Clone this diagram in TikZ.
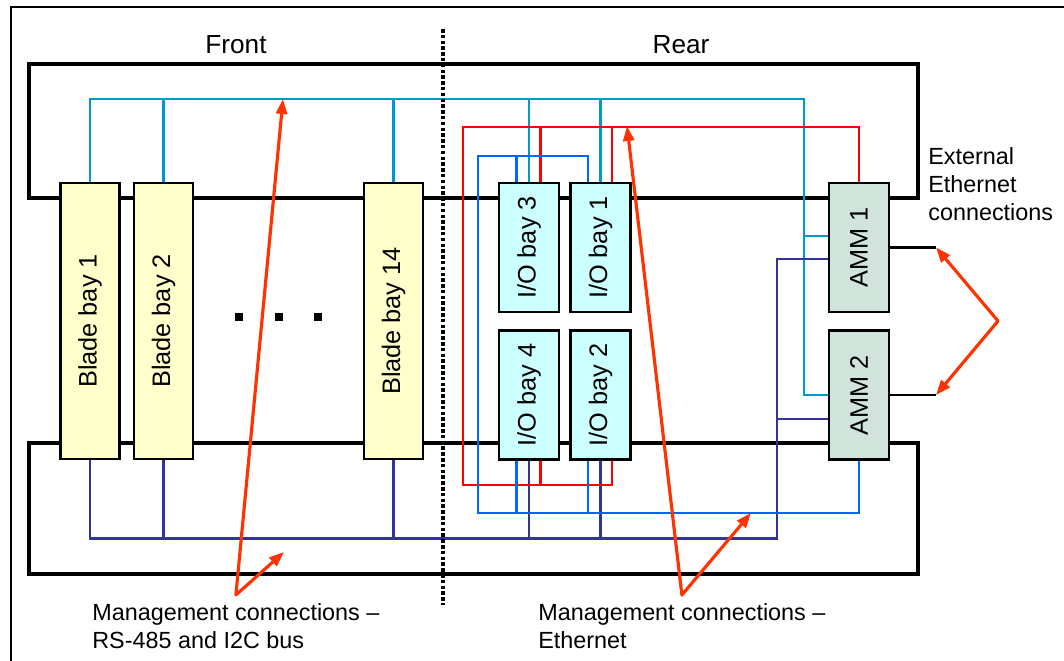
\documentclass[tikz,border=0pt]{standalone}
\usepackage{fontspec}
\setmainfont{Liberation Sans}
\usepackage{graphicx}
\usetikzlibrary{arrows.meta,calc}
\definecolor{bladefill}{HTML}{FFFFCC}
\definecolor{iofill}{HTML}{CCFFFF}
\definecolor{ammfill}{HTML}{D0E4DC}
\definecolor{rsline}{HTML}{333399}
\definecolor{mgline}{HTML}{0099CC}
\definecolor{ethred}{HTML}{FF0000}
\definecolor{ethblue}{HTML}{0066FF}
\definecolor{callout}{HTML}{FF3300}
\tikzset{
  bladebox/.style={draw,fill=bladefill,line width=1.3pt,minimum width=1.18cm,minimum height=5.52cm,inner sep=0pt,font=\fontsize{14.4}{16}\selectfont},
  iobox/.style={draw,fill=iofill,line width=1.3pt,minimum width=1.2cm,minimum height=2.58cm,inner sep=0pt,font=\fontsize{14.4}{16}\selectfont},
  ammbox/.style={draw,fill=ammfill,line width=1.3pt,minimum width=1.2cm,minimum height=2.58cm,inner sep=0pt,font=\fontsize{14.4}{16}\selectfont},
  chassis/.style={line width=2.1pt,draw=black},
  divider/.style={line width=2.1pt,draw=black,dash pattern=on 2pt off 1.3pt},
  rsbus/.style={line width=1.5pt,draw=rsline},
  mgbus/.style={line width=1.5pt,draw=mgline},
  redbus/.style={line width=1.5pt,draw=ethred},
  bluebus/.style={line width=1.5pt,draw=ethblue},
  ethext/.style={line width=1.4pt,draw=black},
  callarr/.style={{Triangle[length=0.3cm,width=0.22cm]}-{Triangle[length=0.3cm,width=0.22cm]},line width=1.8pt,draw=callout,line join=round},
  lbl/.style={align=left,inner sep=0pt,font=\fontsize{13.3}{15.9}\selectfont},
  head/.style={inner sep=0pt,font=\fontsize{14.9}{17}\selectfont}
}
\begin{document}
\begin{tikzpicture}[x=0.02cm,y=-0.02cm]
  \useasboundingbox (0,0) rectangle (1064,661);
  \draw[line width=0.7pt] (11,661) -- (11,7) -- (1064,7);
  \node[head] (front) at (236,45) {Front};
  \node[head] (rear) at (681,45) {Rear};
  \draw[chassis] (29,64) rectangle (918,198);
  \draw[chassis] (29,443) rectangle (918,574);

  \node[bladebox] (bb1) at (90,321) {\rotatebox{90}{Blade bay 1}};
  \node[bladebox] (bb2) at (163.5,321) {\rotatebox{90}{Blade bay 2}};
  \node[bladebox] (bb14) at (393.5,321) {\rotatebox{90}{Blade bay 14}};
  \node[iobox] (io3) at (529,247.5) {\rotatebox{90}{I/O bay 3}};
  \node[iobox] (io1) at (600.5,247.5) {\rotatebox{90}{I/O bay 1}};
  \node[iobox] (io4) at (529,395) {\rotatebox{90}{I/O bay 4}};
  \node[iobox] (io2) at (600.5,395) {\rotatebox{90}{I/O bay 2}};
  \node[ammbox] (amm1) at (859,247.5) {\rotatebox{90}{AMM 1}};
  \node[ammbox] (amm2) at (859,395) {\rotatebox{90}{AMM 2}};
  \foreach \x in {239,279,318} \fill (\x-4,313) rectangle ++(8,8);

  \coordinate (mgtop) at (804,99);
  \draw[mgbus] (bb1.north) |- (mgtop) -- (mgtop |- amm2.west) -- (amm2.west);
  \draw[mgbus] ([yshift=0.23cm]amm1.west) coordinate (m1) -- (m1 -| mgtop);
  \foreach \n in {bb2,bb14,io3,io1} \draw[mgbus] (\n.north) -- (\n.north |- mgtop);

  \coordinate (rsbot) at (777,538.3);
  \draw[rsbus] ([yshift=-0.23cm]amm1.west) coordinate (r1) -| (rsbot) -- (bb1.south |- rsbot) -- (bb1.south);
  \draw[rsbus] ([yshift=-0.48cm]amm2.west) coordinate (r2) -- (r2 -| rsbot);
  \foreach \n in {bb2,bb14,io4,io2} \draw[rsbus] (\n.south) -- (\n.south |- rsbot);

  \coordinate (ettop) at (463,127);
  \coordinate (etbot) at (463,485);
  \draw[redbus] (amm1.north) |- (ettop) -- (etbot) -| ([xshift=0.23cm]io2.south);
  \foreach \n in {io3,io1} \draw[redbus] ([xshift=0.23cm]\n.north) coordinate (t) -- (t |- ettop);
  \draw[redbus] ([xshift=0.23cm]io4.south) coordinate (t) -- (t |- etbot);

  \coordinate (bltop) at (478,156);
  \coordinate (blbot) at (478,513);
  \draw[bluebus] ([xshift=-0.25cm]io1.north) coordinate (t) |- (bltop) -- (blbot) -| (amm2.south);
  \draw[bluebus] ([xshift=-0.25cm]io3.north) coordinate (t) -- (t |- bltop);
  \foreach \n in {io4,io2} \draw[bluebus] ([xshift=-0.25cm]\n.south) coordinate (t) -- (t |- blbot);

  \coordinate (x1) at (936,247.5);
  \coordinate (x2) at (936,395);
  \draw[ethext] (amm1.east) -- (x1);
  \draw[ethext] (amm2.east) -- (x2);

  \draw[divider] (443,29) -- (443,605);

  \node[lbl,anchor=north west] (lrs) at (92,603) {Management connections --\\RS-485 and I2C bus};
  \node[lbl,anchor=north west] (leth) at (538,603) {Management connections --\\Ethernet};
  \node[lbl,anchor=north west] (lext) at (928,147) {External\\Ethernet\\connections};
  \coordinate (cl1) at (283,99);
  \coordinate (cl2) at (284,552);
  \coordinate (ce1) at (627,126);
  \coordinate (ce2) at (751,513);
  \coordinate (cx) at (998,321);
  \draw[callarr] (cl1) -- ([yshift=0.16cm]lrs.north) -- (cl2);
  \draw[callarr] (ce1) -- ([yshift=0.16cm]leth.north) -- (ce2);
  \draw[callarr] (x1) -- (cx) -- (x2);
\end{tikzpicture}
\end{document}
